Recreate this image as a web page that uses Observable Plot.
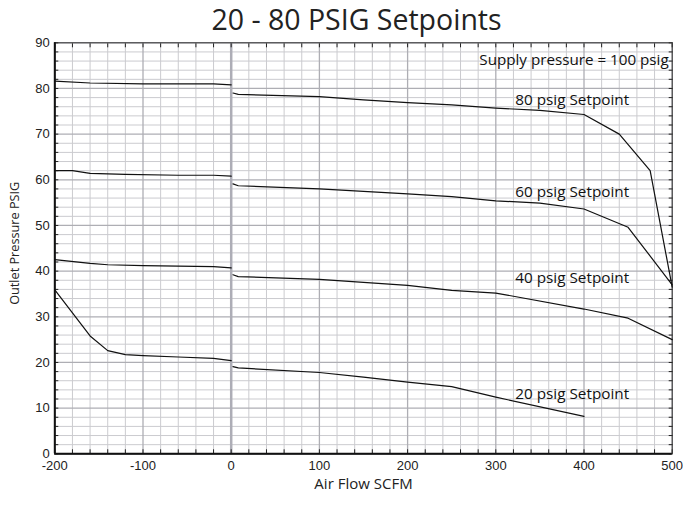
<!DOCTYPE html>
<html>
<head>
<meta charset="utf-8">
<script src="https://cdn.jsdelivr.net/npm/d3@7"></script>
<script src="https://cdn.jsdelivr.net/npm/@observablehq/plot@0.6"></script>
<style>
  body { margin: 0; background: #fff; }
  #title { height: 36px; line-height: 38px; font-family: "Open Sans", sans-serif; font-size: 28.5px; color: #222; text-align: center; padding-left: 30px; box-sizing: border-box; width: 683px; }
</style>
</head>
<body>
<div id="title">20 - 80 PSIG Setpoints</div>
<div id="chart"></div>
<script>
// ---- data (Air Flow SCFM, Outlet Pressure PSIG) ----
const set80Left  = [[-200,81.6],[-160,81.2],[-100,81.0],[-20,81.0],[0,80.8]];
const set80Right = [[2,79.0],[8,78.7],[100,78.2],[150,77.5],[200,76.9],[250,76.4],[300,75.7],[350,75.2],[400,74.3],[440,70.0],[475,62.0],[500,36.5]];
const set60Left  = [[-200,62.0],[-180,62.0],[-160,61.4],[-120,61.2],[-60,61.0],[-20,61.0],[0,60.8]];
const set60Right = [[2,59.1],[8,58.7],[100,58.0],[200,56.9],[250,56.3],[300,55.4],[350,54.9],[400,53.6],[450,49.6],[500,37.0]];
const set40Left  = [[-200,42.5],[-160,41.7],[-140,41.4],[-100,41.2],[-20,41.0],[0,40.7]];
const set40Right = [[2,39.2],[8,38.8],[100,38.2],[200,36.9],[250,35.8],[300,35.2],[400,31.7],[450,29.7],[500,25.0]];
const set20Left  = [[-200,35.9],[-160,25.8],[-140,22.6],[-120,21.7],[-100,21.5],[-60,21.2],[-20,20.9],[0,20.4]];
const set20Right = [[2,19.1],[8,18.8],[100,17.8],[150,16.8],[200,15.7],[250,14.7],[300,12.4],[400,8.2]];

const xTickLabels = [-200,-100,0,100,200,300,400,500];
const yTickLabels = [0,10,20,30,40,50,60,70,80,90];
const xMinor = d3.range(-200, 501, 20);
const yMinor = d3.range(0, 91, 2);

const setpointText = ["80 psig Setpoint","60 psig Setpoint","40 psig Setpoint","20 psig Setpoint"];
const setpointX = [322, 322, 322, 322];
const setpointY = [77.4, 57.2, 38.4, 13.0];
const supplyText = ["Supply pressure = 100 psig"];
const supplyX = [496];
const supplyY = [86.1];

const segments = [set80Left,set80Right,set60Left,set60Right,set40Left,set40Right,set20Left,set20Right];
const rows = segments.flatMap((seg, i) => seg.map(([x, y]) => ({x, y, seg: i})));
const setpointLabels = setpointText.map((t, i) => ({t, x: setpointX[i], y: setpointY[i]}));
const supplyLabels = supplyText.map((t, i) => ({t, x: supplyX[i], y: supplyY[i]}));

const chart = Plot.plot({
  width: 683,
  height: 474,
  marginLeft: 54.3,
  marginRight: 11.3,
  marginTop: 6.3,
  marginBottom: 56.7,
  x: {domain: [-200, 500]},
  y: {domain: [0, 90]},
  style: {fontFamily: "'Liberation Sans', Arial, sans-serif", fontSize: "13px", color: "#222", background: "#fff"},
  marks: [
    Plot.ruleX(xMinor.filter(d => d % 100 !== 0), {stroke: "#cbcbcf", strokeWidth: 1}),
    Plot.ruleY(yMinor.filter(d => d % 10 !== 0), {stroke: "#cbcbcf", strokeWidth: 1}),
    Plot.ruleX(xTickLabels.filter(d => d !== 0), {stroke: "#aeaeb4", strokeWidth: 1.3}),
    Plot.ruleY(yTickLabels, {stroke: "#aeaeb4", strokeWidth: 1.3}),
    Plot.ruleX([0], {stroke: "#adadb6", strokeWidth: 2.5}),
    Plot.axisX({anchor: "bottom", ticks: xMinor, tickSize: -4, stroke: "#222", tickFormat: () => "", label: null}),
    Plot.axisX({anchor: "top", ticks: xMinor, tickSize: -4, stroke: "#222", tickFormat: () => "", label: null}),
    Plot.axisY({anchor: "left", ticks: yMinor, tickSize: -4, stroke: "#222", tickFormat: () => "", label: null}),
    Plot.axisY({anchor: "right", ticks: yMinor, tickSize: -4, stroke: "#222", tickFormat: () => "", label: null}),
    Plot.axisX({anchor: "bottom", ticks: xTickLabels, tickSize: 0, tickPadding: 7, tickFormat: d => String(d), label: null, fill: "#222"}),
    Plot.axisY({anchor: "left", ticks: yTickLabels, tickSize: 0, tickPadding: 5, tickFormat: d => String(d), label: null, fill: "#222"}),
    Plot.frame({stroke: "#333", strokeWidth: 1}),
    Plot.ruleX([-200], {stroke: "#111", strokeWidth: 2}),
    Plot.ruleY([0], {stroke: "#111", strokeWidth: 2}),
    Plot.line(rows, {x: "x", y: "y", z: "seg", stroke: "#111", strokeWidth: 1.2}),
    Plot.text(setpointLabels, {x: "x", y: "y", text: "t", textAnchor: "start", fontFamily: "'Open Sans', sans-serif", fontSize: 15.3, fill: "#111"}),
    Plot.text(supplyLabels, {x: "x", y: "y", text: "t", textAnchor: "end", fontFamily: "'Open Sans', sans-serif", fontSize: 15.2, fill: "#111"}),
    Plot.text(["Outlet Pressure PSIG"], {frameAnchor: "left", textAnchor: "middle", lineAnchor: "middle", rotate: -90, dx: -40, dy: -5, fontFamily: "'Open Sans', sans-serif", fontSize: 12.7, fill: "#222"}),
    Plot.text(["Air Flow SCFM"], {frameAnchor: "bottom", textAnchor: "middle", lineAnchor: "middle", dy: 30, fontFamily: "'Open Sans', sans-serif", fontSize: 15, fill: "#222"})
  ]
});
document.getElementById("chart").appendChild(chart);
</script>
</body>
</html>
